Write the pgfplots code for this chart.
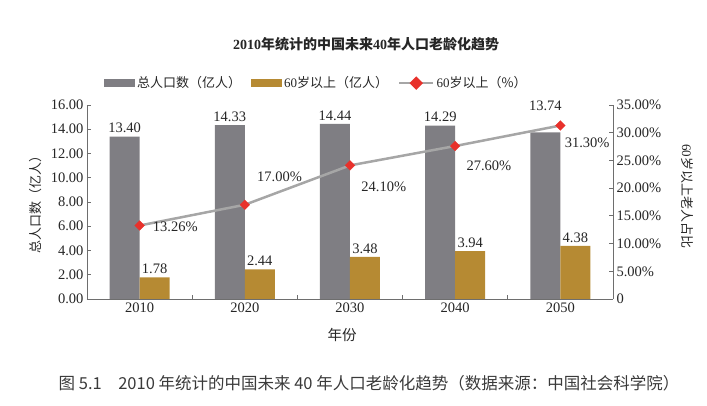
\documentclass[border=0pt]{standalone}
\usepackage{fontspec}
\setmainfont{Liberation Serif}
\newfontfamily\cjk{Noto Sans CJK SC}
\usepackage{pgfplots}
\pgfplotsset{compat=1.18}

\definecolor{barGray}{HTML}{7F7E83}
\definecolor{barGold}{HTML}{B68A33}
\definecolor{lineGray}{HTML}{A6A6A6}
\definecolor{dRed}{HTML}{E8312B}
\definecolor{axGray}{HTML}{6E6E6E}
\definecolor{txt}{HTML}{262626}
\definecolor{capGray}{HTML}{3A3A3A}

\newcommand{\numfont}{\fontsize{14.5}{16}\selectfont}
\newcommand{\labfont}{\fontsize{13}{15}\selectfont}

\begin{document}
\begin{tikzpicture}
\path[use as bounding box] (0pt,0pt) rectangle (707pt,406pt);
% title and caption
\node[text=txt, font=\fontsize{14}{16}\selectfont\bfseries, inner sep=0pt] at (366pt,362pt)
  {2010{\cjk\bfseries 年统计的中国未来}40{\cjk\bfseries 年人口老龄化趋势}};
\node[text=capGray, font=\cjk\fontsize{16.5}{18}\selectfont, inner sep=0pt] at (369pt,23pt)
  {图 5.1\quad 2010 年统计的中国未来 40 年人口老龄化趋势（数据来源：中国社会科学院）};

% bars, left axis
\begin{axis}[
  at={(87pt,107pt)}, anchor=south west,
  scale only axis, width=526pt, height=194pt,
  ybar=0pt, bar width=30pt,
  xmin=-0.5, xmax=4.5, ymin=0, ymax=16,
  axis y line*=left, axis x line*=bottom,
  axis line style={axGray, line width=0.8pt},
  tick align=inside,
  tick style={axGray, line width=0.8pt},
  major tick length=4pt, minor tick length=4pt,
  xtick={0,1,2,3,4},
  xticklabels={2010,2020,2030,2040,2050},
  major x tick style={draw=none},
  minor xtick={0.5,1.5,2.5,3.5},
  ytick={0,2,...,16},
  /pgf/number format/assume math mode=true,
  ticklabel style={font=\numfont, text=txt},
  yticklabel style={/pgf/number format/.cd, fixed, fixed zerofill, precision=2},
  xlabel={年份},
  xlabel style={font=\cjk\fontsize{14.5}{16}\selectfont, text=txt,
    at={(axis description cs:0.485,-0.186)}, anchor=center},
  ylabel={总人口数（亿人）},
  ylabel style={font=\cjk\labfont, text=txt,
    at={(axis description cs:-0.097,0.5)}, anchor=center},
  visualization depends on={\thisrow{dy}\as\bdy},
  nodes near coords={\pgfmathprintnumber[fixed,fixed zerofill,precision=2]{\pgfplotspointmeta}},
  every node near coord/.append style={font=\numfont, text=txt, yshift=\bdy pt},
  legend columns=3,
  legend cell align=left,
  legend style={at={(axis description cs:0.032,1.113)}, anchor=west,
    draw=none, fill=none, inner sep=0pt, font=\labfont, text=txt,
    /tikz/every even column/.append style={column sep=8pt},
    nodes={inner xsep=2pt}},
]
\addplot[fill=barGray, draw=none,
  legend image code/.code={\fill[barGray] (0pt,-4pt) rectangle (31pt,4pt);}]
  table {
x y dy
0 13.40 0
1 14.33 0
2 14.44 0
3 14.29 0
4 13.74 18
};
\addlegendentry{\cjk 总人口数（亿人）}
\addplot[fill=barGold, draw=none,
  legend image code/.code={\fill[barGold] (0pt,-4pt) rectangle (31pt,4pt);}]
  table {
x y dy
0 1.78 0
1 2.44 0
2 3.48 0
3 3.94 0
4 4.38 0
};
\addlegendentry{60{\cjk 岁以上（亿人）}}
\addlegendimage{lineGray, line width=2.5pt,
  legend image code/.code={
    \draw[lineGray, line width=2.5pt] (0pt,0pt) -- (34pt,0pt);
    \fill[dRed, rotate around={45:(17pt,0pt)}] (13.5pt,-3.5pt) rectangle (20.5pt,3.5pt);}}
\addlegendentry{60{\cjk 岁以上（\%）}}
\end{axis}

% line, right axis
\begin{axis}[
  at={(87pt,107pt)}, anchor=south west,
  scale only axis, width=526pt, height=194pt,
  xmin=-0.5, xmax=4.5, ymin=0, ymax=35,
  axis y line*=right, axis x line=none,
  axis line style={axGray, line width=0.8pt},
  tick align=inside,
  tick style={axGray, line width=0.8pt},
  major tick length=4pt,
  ytick={0,5,...,35},
  yticklabels={0,5.00\%,10.00\%,15.00\%,20.00\%,25.00\%,30.00\%,35.00\%},
  /pgf/number format/assume math mode=true,
  ticklabel style={font=\numfont, text=txt},
  ylabel={60{\cjk 岁以上老人占比}},
  ylabel style={font=\labfont, text=txt, rotate=180,
    at={(axis description cs:1.141,0.53)}, anchor=center},
]
\addplot[lineGray, line width=2.5pt,
  mark=square*, mark size=3.5pt,
  mark options={solid, draw=dRed, fill=dRed, line width=0.1pt, rotate=45},
  point meta=y,
  visualization depends on={\thisrow{dx}\as\labdx},
  visualization depends on={\thisrow{dy}\as\labdy},
  nodes near coords={\pgfmathprintnumber[fixed,fixed zerofill,precision=2]{\pgfplotspointmeta}\%},
  every node near coord/.append style={font=\numfont, text=txt, anchor=west,
    xshift=\labdx pt, yshift=\labdy pt},
] table {
x y dx dy
0 13.26 10 -1
1 17.00 9 28
2 24.10 8 -21
3 27.60 8 -20
4 31.30 1 -17
};
\end{axis}
\end{tikzpicture}
\end{document}
